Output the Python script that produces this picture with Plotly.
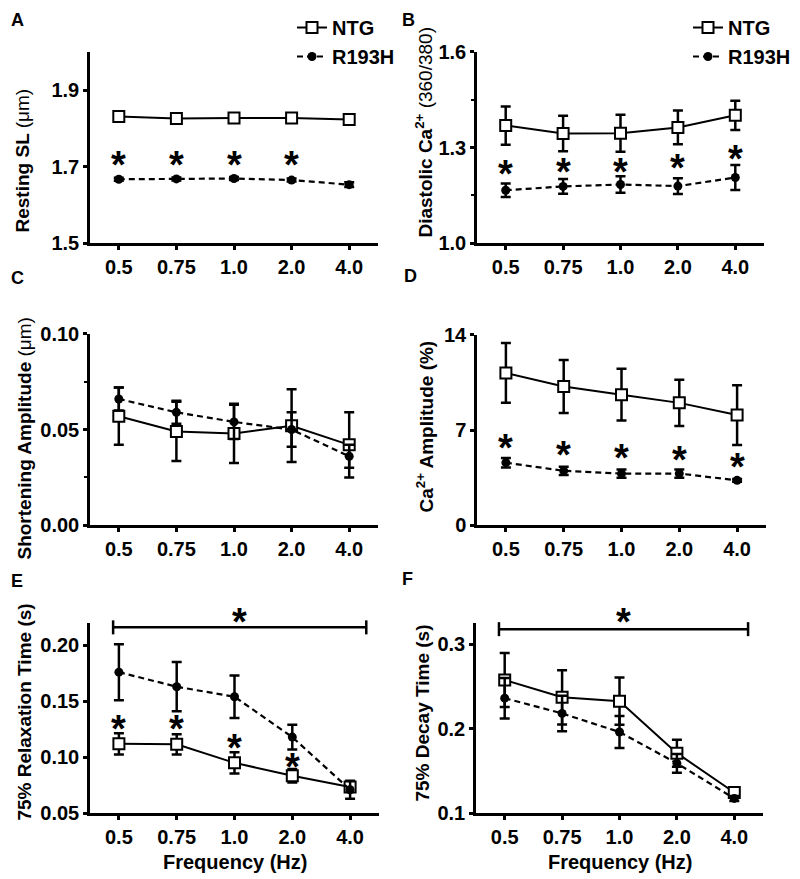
import plotly.graph_objects as go

# frequencies (categories on every x axis)
freq_labels = ["0.5", "0.75", "1.0", "2.0", "4.0"]
freq_pos = [0, 1, 2, 3, 4]

# A - resting sarcomere length
sl_ntg = [1.831, 1.826, 1.827, 1.827, 1.823]
sl_ntg_err = [0.005, 0.005, 0.005, 0.005, 0.007]
sl_r193h = [1.667, 1.668, 1.669, 1.665, 1.653]
sl_r193h_err = [0.004, 0.004, 0.004, 0.004, 0.006]

# B - diastolic Ca
dia_ntg = [1.369, 1.344, 1.345, 1.363, 1.401]
dia_ntg_err = [0.060, 0.056, 0.058, 0.053, 0.046]
dia_r193h = [1.166, 1.178, 1.184, 1.179, 1.206]
dia_r193h_err = [0.021, 0.023, 0.026, 0.025, 0.039]

# C - shortening amplitude
sh_ntg = [0.057, 0.049, 0.048, 0.052, 0.042]
sh_ntg_err = [0.015, 0.0155, 0.0155, 0.019, 0.017]
sh_r193h = [0.066, 0.059, 0.054, 0.050, 0.036]
sh_r193h_err = [0.006, 0.006, 0.009, 0.009, 0.006]

# D - Ca amplitude
amp_ntg = [11.2, 10.2, 9.6, 9.0, 8.1]
amp_ntg_err = [2.2, 1.95, 1.9, 1.7, 2.2]
amp_r193h = [4.6, 4.0, 3.8, 3.8, 3.3]
amp_r193h_err = [0.35, 0.3, 0.3, 0.3, 0.1]

# E - 75% relaxation time
rel_ntg = [0.112, 0.1115, 0.095, 0.0835, 0.0735]
rel_ntg_err = [0.0095, 0.009, 0.0095, 0.006, 0.004]
rel_r193h = [0.176, 0.163, 0.154, 0.118, 0.071]
rel_r193h_err = [0.025, 0.022, 0.019, 0.011, 0.008]

# F - 75% decay time
dec_ntg = [0.2575, 0.237, 0.2325, 0.171, 0.1245]
dec_ntg_err = [0.032, 0.032, 0.028, 0.016, 0.003]
dec_r193h = [0.236, 0.218, 0.196, 0.159, 0.1175]
dec_r193h_err = [0.024, 0.021, 0.019, 0.011, 0.003]

# significance stars (category index, value)
stars_a = ([0, 1, 2, 3], [1.716, 1.716, 1.716, 1.716])
stars_b = ([0, 1, 2, 3, 4], [1.228, 1.237, 1.237, 1.247, 1.278])
stars_d = ([0, 1, 2, 3, 4], [6.0, 5.45, 5.25, 5.1, 4.6])
stars_e = ([0, 1, 2, 3], [0.1286, 0.1286, 0.1118, 0.095])
# brackets over the whole frequency range (x from, x to, y) and star on top
bracket_e = (-0.1, 4.28, 0.216, 0.2248)
bracket_f = (-0.1, 4.24, 0.3176, 0.3306)

# page body has an 8px margin, so the figure is a bit smaller than the window
OFF = 8
W, H = 800 - OFF, 879 - OFF
FONT = "Liberation Sans, Arial, sans-serif"

def fx(p):
    # window pixel -> paper x
    return (p - OFF) / W

def fy(p):
    # window pixel (from top) -> paper y
    return 1 - (p - OFF) / H

# name, x px span, y px span (top, bottom), y range, y ticks, minor ticks
panels = [
    ("", (90, 378), (49, 241), [1.5, 2.0], [1.5, 1.7, 1.9], None,
     sl_ntg, sl_ntg_err, sl_r193h, sl_r193h_err),
    ("2", (477, 764), (49, 241), [1.0, 1.6], [1.0, 1.3, 1.6], [1.15, 1.45],
     dia_ntg, dia_ntg_err, dia_r193h, dia_r193h_err),
    ("3", (90, 378), (332, 524), [0, 0.10], [0, 0.05, 0.10], [0.025, 0.075],
     sh_ntg, sh_ntg_err, sh_r193h, sh_r193h_err),
    ("4", (477, 766), (333, 524), [0, 14], [0, 7, 14], None,
     amp_ntg, amp_ntg_err, amp_r193h, amp_r193h_err),
    ("5", (90, 379), (622, 813), [0.05, 0.22], [0.05, 0.10, 0.15, 0.20], None,
     rel_ntg, rel_ntg_err, rel_r193h, rel_r193h_err),
    ("6", (476, 763), (622, 813), [0.1, 0.325], [0.1, 0.2, 0.3], None,
     dec_ntg, dec_ntg_err, dec_r193h, dec_r193h_err),
]
yticktext = [
    ["1.5", "1.7", "1.9"],
    ["1.0", "1.3", "1.6"],
    ["0.00", "0.05", "0.10"],
    ["0", "7", "14"],
    ["0.05", "0.10", "0.15", "0.20"],
    ["0.1", "0.2", "0.3"],
]

fig = go.Figure()
layout = dict(
    template="none",
    width=W, height=H,
    margin=dict(l=0, r=0, t=0, b=0, pad=0),
    plot_bgcolor="white", paper_bgcolor="white",
    font=dict(family=FONT, color="black"),
)
yranges = {}

for i, (s, xs, ys, yr, yt, ym, ntg, ntg_e, r, r_e) in enumerate(panels):
    xa = "x" + s
    ya = "y" + s
    yranges[ya] = yr
    leg = "legend" if s == "" else ("legend2" if s == "2" else None)
    fig.add_trace(go.Scatter(
        x=freq_pos, y=ntg, name="NTG", xaxis=xa, yaxis=ya,
        mode="lines+markers",
        line=dict(color="black", width=2),
        marker=dict(symbol="square", size=11, color="white",
                    line=dict(color="black", width=2)),
        error_y=dict(type="data", array=ntg_e, color="black",
                     thickness=2.5, width=5),
        showlegend=leg is not None, legend=leg or "legend",
        cliponaxis=False))
    fig.add_trace(go.Scatter(
        x=freq_pos, y=r, name="R193H", xaxis=xa, yaxis=ya,
        mode="lines+markers",
        line=dict(color="black", width=2.2, dash="6px,4px"),
        marker=dict(symbol="circle", size=9, color="black"),
        error_y=dict(type="data", array=r_e, color="black",
                     thickness=2.5, width=5),
        showlegend=leg is not None, legend=leg or "legend",
        cliponaxis=False))

    xkey = "xaxis" + s
    ykey = "yaxis" + s
    layout[xkey] = dict(
        domain=[fx(xs[0]), fx(xs[1])], anchor=ya, range=[-0.5, 4.5],
        tickvals=freq_pos, ticktext=freq_labels, automargin=False,
        showline=True, linecolor="black", linewidth=2.5,
        ticks="outside", ticklen=4, tickwidth=2.5, tickcolor="black",
        showgrid=False, zeroline=False,
        tickfont=dict(size=20, family=FONT, weight="bold"))
    layout[ykey] = dict(
        domain=[fy(ys[1]), fy(ys[0])], anchor=xa, range=yr,
        tickvals=yt, ticktext=yticktext[i], automargin=False,
        showline=True, linecolor="black", linewidth=2.5,
        ticks="outside", ticklen=4, tickwidth=2.5, tickcolor="black",
        showgrid=False, zeroline=False,
        tickfont=dict(size=20, family=FONT, weight="bold"))
    if ym:
        layout[ykey]["minor"] = dict(tickvals=ym, ticks="outside", ticklen=3,
                                     tickwidth=2, tickcolor="black",
                                     showgrid=False)

annotations = []

def star(x, y, xa, ya):
    # position through the axis domain so stars above the range still show
    lo, hi = yranges[ya]
    annotations.append(dict(x=x, y=(y - lo) / (hi - lo), xref=xa,
                            yref=ya + " domain", text="<b>*</b>",
                            showarrow=False, yshift=-4,
                            xanchor="center", yanchor="middle",
                            font=dict(size=38, family=FONT)))

for sx, sy, xa, ya in [(stars_a[0], stars_a[1], "x", "y"),
                       (stars_b[0], stars_b[1], "x2", "y2"),
                       (stars_d[0], stars_d[1], "x4", "y4"),
                       (stars_e[0], stars_e[1], "x5", "y5")]:
    for x, y in zip(sx, sy):
        star(x, y, xa, ya)

# brackets
for (x0, x1, yb, ys_), xa, ya in [(bracket_e, "x5", "y5"), (bracket_f, "x6", "y6")]:
    fig.add_trace(go.Scatter(
        x=[x0, x1], y=[yb, yb], xaxis=xa, yaxis=ya, mode="lines+markers",
        line=dict(color="black", width=2.5),
        marker=dict(symbol="line-ns", size=10,
                    line=dict(color="black", width=2.5)),
        showlegend=False, cliponaxis=False, hoverinfo="skip"))
    star((x0 + x1) / 2, ys_, xa, ya)

# panel letters
for letter, x, y in [("A", 17, 17), ("B", 408, 17), ("C", 17, 276),
                     ("D", 410, 274), ("E", 17, 580), ("F", 407, 578)]:
    annotations.append(dict(x=fx(x), y=fy(y), xref="paper", yref="paper",
                            text="<b>" + letter + "</b>", showarrow=False,
                            xanchor="center", yanchor="middle",
                            font=dict(size=18, family=FONT)))

# axis titles
ytitles = [
    ("<b>Resting SL </b>(μm)", 22, 158),
    ("<b>Diastolic Ca<sup>2+</sup> </b>(360/380)", 424, 130),
    ("<b>Shortening Amplitude </b>(μm)", 25, 437),
    ("<b>Ca<sup>2+</sup> Amplitude (%)</b>", 425, 425),
    ("<b>75% Relaxation Time (s)</b>", 25, 712),
    ("<b>75% Decay Time (s)</b>", 423, 713),
]
for txt, x, y in ytitles:
    annotations.append(dict(x=fx(x), y=fy(y), xref="paper", yref="paper",
                            text=txt, showarrow=False, textangle=-90,
                            xanchor="center", yanchor="middle",
                            font=dict(size=19, family=FONT)))
for x in [235, 620]:
    annotations.append(dict(x=fx(x), y=fy(862), xref="paper", yref="paper",
                            text="<b>Frequency (Hz)</b>", showarrow=False,
                            xanchor="center", yanchor="middle",
                            font=dict(size=20, family=FONT)))

layout["annotations"] = annotations
legfont = dict(size=20, family=FONT, weight="bold")
layout["legend"] = dict(x=fx(292), y=fy(5), xanchor="left", yanchor="top",
                        font=legfont, bgcolor="rgba(0,0,0,0)", itemwidth=30)
layout["legend2"] = dict(x=fx(688), y=fy(5), xanchor="left", yanchor="top",
                         font=legfont, bgcolor="rgba(0,0,0,0)", itemwidth=30)
fig.update_layout(**layout)

fig.write_html("out.html")
